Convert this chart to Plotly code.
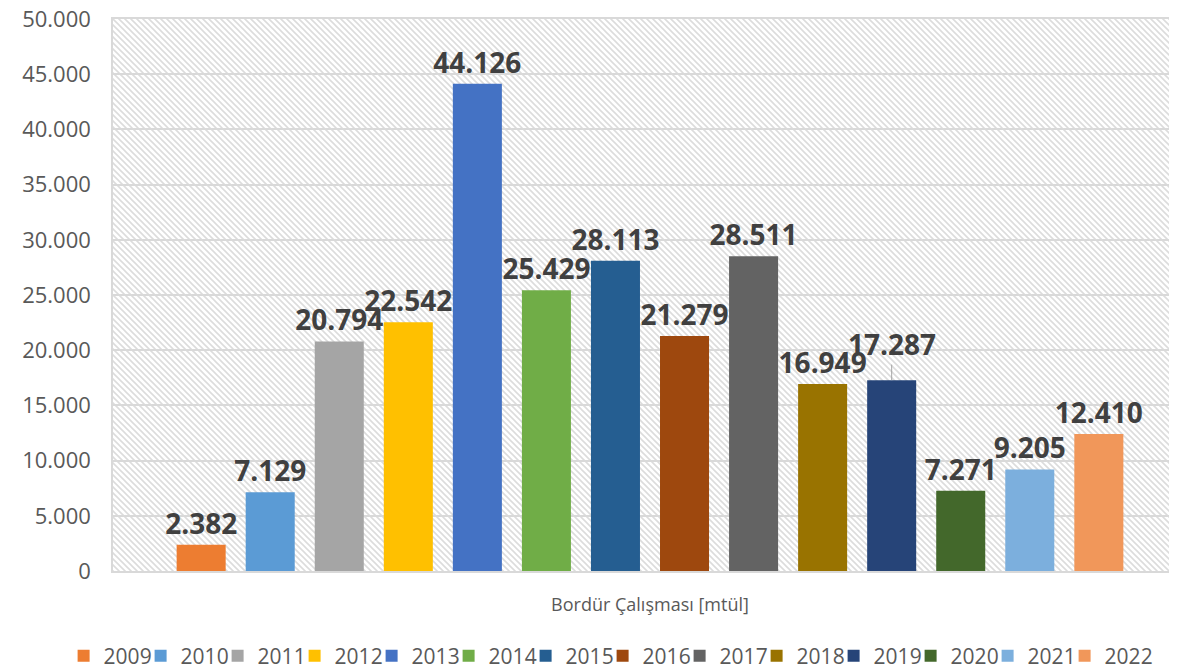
import base64
import plotly.graph_objects as go

category = ["Bordür Çalışması [mtül]"]
years = ["2009", "2010", "2011", "2012", "2013", "2014", "2015",
         "2016", "2017", "2018", "2019", "2020", "2021", "2022"]
values = [2382, 7129, 20794, 22542, 44126, 25429, 28113,
          21279, 28511, 16949, 17287, 7271, 9205, 12410]
colors = ["#ED7D31", "#5B9BD5", "#A5A5A5", "#FFC000", "#4472C4", "#70AD47", "#255E91",
          "#9E480E", "#636363", "#997300", "#264478", "#43682B", "#7CAFDD", "#F1975A"]
y_ticks = [0, 5000, 10000, 15000, 20000, 25000, 30000, 35000, 40000, 45000, 50000]

# label that Excel moved up (with a leader line) to avoid overlap
raised_label = "2019"
raise_px = -36

BARGAP = 0.088
label_font = dict(family="Open Sans", size=28, color="#404040", weight="bold")

fig = go.Figure()
for yr, v, c in zip(years, values, colors):
    fig.add_trace(go.Bar(
        name=yr, x=category, y=[v], marker=dict(color=c, line=dict(width=0)),
        texttemplate="" if yr == raised_label else "%{y:,}",
        textposition="outside", constraintext="none",
        cliponaxis=False, textfont=label_font,
    ))
# empty spacer entry so the last legend label is not clipped
fig.add_trace(go.Scatter(x=[None], y=[None], mode="markers", name=" ",
                         marker=dict(color="rgba(0,0,0,0)"), hoverinfo="skip"))

# raised label with leader line, anchored at its bar top
i = years.index(raised_label)
n = len(years)
bar_center = (i + 0.5) / n * (1 - BARGAP) - (1 - BARGAP) / 2
fig.add_annotation(x=bar_center, y=values[i], xref="x", yref="y",
                   text=f"{values[i]:,}".replace(",", "."), font=label_font,
                   showarrow=True, arrowhead=0, arrowwidth=1, arrowcolor="#a6a6a6",
                   ax=0, ay=raise_px, standoff=0)

# diagonal hatch background for the plot area
W, H = 1060, 552
svg = (
    f'<svg xmlns="http://www.w3.org/2000/svg" width="{W}" height="{H}" '
    f'viewBox="0 0 {W} {H}" preserveAspectRatio="none">'
    '<defs><pattern id="p" width="6" height="6" patternUnits="userSpaceOnUse">'
    '<path d="M-1,-1 L7,7 M-1,5 L1,7 M5,-1 L7,1" stroke="#dcdcdc" stroke-width="1.6"/>'
    '</pattern></defs>'
    f'<rect width="{W}" height="{H}" fill="white"/>'
    f'<rect width="{W}" height="{H}" fill="url(#p)"/></svg>'
)
src = "data:image/svg+xml;base64," + base64.b64encode(svg.encode()).decode()

# page body has an 8px margin, so the figure is sized/offset accordingly
fig.update_layout(
    width=1169, height=662,
    margin=dict(l=105, r=4, t=11, b=99, autoexpand=False),
    paper_bgcolor="white", plot_bgcolor="rgba(0,0,0,0)",
    separators=",.",
    barmode="group", bargap=BARGAP, bargroupgap=0.29,
    font=dict(family="Open Sans", color="#595959"),
    images=[dict(source=src, xref="paper", yref="paper", x=0, y=1,
                 sizex=1, sizey=1, sizing="stretch", layer="below",
                 xanchor="left", yanchor="top")],
    legend=dict(orientation="h", xref="paper", yref="paper",
                x=-0.0466, xanchor="left", y=-0.154, yanchor="middle",
                font=dict(size=21, color="#595959"), entrywidth=32,
                traceorder="normal"),
    showlegend=True,
)
fig.update_xaxes(range=[-0.5066, 0.4934], showline=True, linecolor="#d9d9d9",
                 linewidth=1.5, mirror=True, tickfont=dict(size=18, color="#595959"),
                 ticks="", ticklabelstandoff=17, automargin=False,
                 ticklabeloverflow="allow")
fig.update_yaxes(range=[0, 50000], tickvals=y_ticks, tickformat=",",
                 showgrid=True, gridcolor="#d9d9d9", gridwidth=1.5,
                 showline=True, linecolor="#d9d9d9", linewidth=1.5, mirror=True,
                 zeroline=False, tickfont=dict(size=22, color="#595959"),
                 ticklabelstandoff=16, automargin=False,
                 ticklabeloverflow="allow")

fig.write_html("out.html")
